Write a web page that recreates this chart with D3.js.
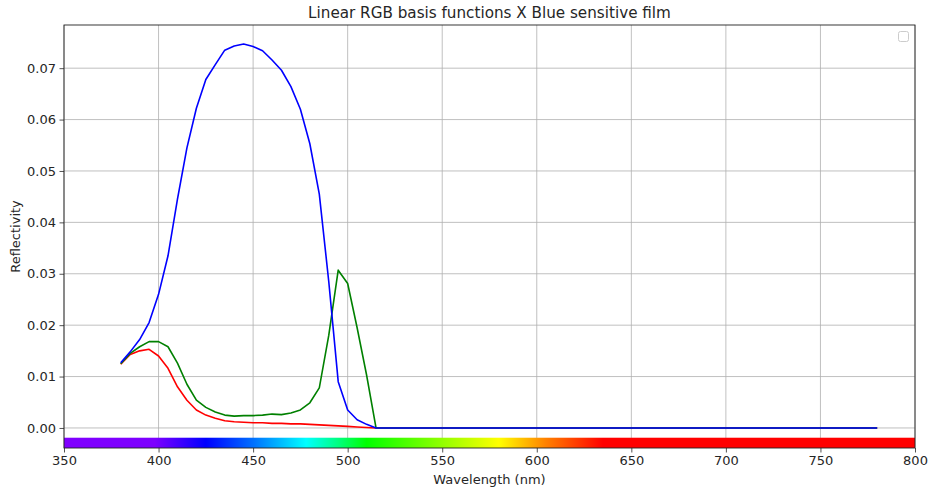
<!DOCTYPE html>
<html>
<head>
<meta charset="utf-8">
<script src="https://cdn.jsdelivr.net/npm/d3@7"></script>
<style>
body{margin:0;background:#fff;}
text{font-family:"DejaVu Sans",sans-serif;fill:#262626;}
</style>
</head>
<body>
<svg id="chart" width="929" height="488"></svg>
<script>
const wavelengths = d3.range(380, 785, 5);
const redValues = [0.0124,0.0143,0.0150,0.0153,0.0140,0.0116,0.0080,0.0054,0.0035,0.0025,0.0019,0.0014,0.0012,0.0011,0.0010,0.0010,0.0009,0.0009,0.0008,0.0008,0.0007,0.0006,0.0005,0.0004,0.0003,0.0002,0.0001,0.0000];
const greenValues = [0.0125,0.0145,0.0158,0.0168,0.0168,0.0158,0.0126,0.0085,0.0054,0.0040,0.0031,0.0025,0.0023,0.0024,0.0024,0.0025,0.0027,0.0026,0.0029,0.0035,0.0049,0.0078,0.0180,0.0307,0.0281,0.0195,0.0103,0.0000];
const blueValues = [0.0127,0.0148,0.0172,0.0205,0.0260,0.0335,0.0445,0.0545,0.0622,0.0678,0.0707,0.0735,0.0743,0.0747,0.0742,0.0734,0.0716,0.0696,0.0664,0.0620,0.0553,0.0455,0.0285,0.0090,0.0035,0.0016,0.0007,0.0000];
const xTicks = [350,400,450,500,550,600,650,700,750,800];
const yTicks = [0.00,0.01,0.02,0.03,0.04,0.05,0.06,0.07];
const spectrumStops = [
  {w:350,c:"#8000ff"},{w:398,c:"#7d00ff"},{w:425,c:"#0000ff"},{w:450,c:"#0070ff"},
  {w:478,c:"#00ffff"},{w:495,c:"#00ff80"},{w:510,c:"#00ff00"},{w:545,c:"#80ff00"},
  {w:580,c:"#ffff00"},{w:605,c:"#ff8000"},{w:635,c:"#ff0000"},{w:800,c:"#ff0000"}
];
const title = "Linear RGB basis functions X Blue sensitive film";

function pad(arr){ return wavelengths.map((w,i)=> i<arr.length ? arr[i] : 0); }

const svg = d3.select("#chart");
const m = {l:64, r:915, t:25, b:448};
const x = d3.scaleLinear().domain([350,800]).range([m.l,m.r]);
const y = d3.scaleLinear().domain([-0.0039,0.0784]).range([m.b,m.t]);

// grid
const g = svg.append("g");
g.selectAll(".gx").data(xTicks).join("line")
  .attr("x1",d=>x(d)).attr("x2",d=>x(d)).attr("y1",m.t).attr("y2",m.b)
  .attr("stroke","#b0b0b0").attr("stroke-width",0.8);
g.selectAll(".gy").data(yTicks).join("line")
  .attr("x1",m.l).attr("x2",m.r).attr("y1",d=>y(d)).attr("y2",d=>y(d))
  .attr("stroke","#b0b0b0").attr("stroke-width",0.8);

// spectrum bar
const defs = svg.append("defs");
const grad = defs.append("linearGradient").attr("id","spec")
  .attr("gradientUnits","userSpaceOnUse").attr("x1",x(350)).attr("x2",x(800)).attr("y1",0).attr("y2",0);
grad.selectAll("stop").data(spectrumStops).join("stop")
  .attr("offset",d=>(d.w-350)/450).attr("stop-color",d=>d.c);
svg.append("rect").attr("x",x(350)).attr("width",x(800)-x(350))
  .attr("y",y(-0.0019)).attr("height",y(-0.0039)-y(-0.0019)).attr("fill","url(#spec)");

// lines
const line = d3.line().x((d,i)=>x(wavelengths[i])).y(d=>y(d));
[[redValues,"#ff0000"],[greenValues,"#008000"],[blueValues,"#0000ff"]].forEach(([vals,col])=>{
  svg.append("path").datum(pad(vals)).attr("d",line).attr("fill","none")
    .attr("stroke",col).attr("stroke-width",1.6).attr("stroke-linejoin","round");
});

// axes
const xa = svg.append("g").attr("transform",`translate(0,${m.b})`)
  .call(d3.axisBottom(x).tickValues(xTicks).tickSize(4.5).tickPadding(3.5).tickFormat(d3.format("d")));
const ya = svg.append("g").attr("transform",`translate(${m.l},0)`)
  .call(d3.axisLeft(y).tickValues(yTicks).tickSize(4.5).tickPadding(3.5).tickFormat(d3.format(".2f")));
[xa,ya].forEach(a=>{
  a.select(".domain").remove();
  a.selectAll("text").style("font-family","DejaVu Sans").style("font-size","13px").attr("fill","#262626");
  a.selectAll("line").attr("stroke","#262626").attr("stroke-width",0.8);
});
svg.append("rect").attr("x",m.l).attr("y",m.t).attr("width",m.r-m.l).attr("height",m.b-m.t)
  .attr("fill","none").attr("stroke","#222").attr("stroke-width",0.9);

// empty legend
svg.append("rect").attr("x",898.5).attr("y",31.5).attr("width",10).attr("height",10).attr("rx",2)
  .attr("fill","#fff").attr("stroke","#cccccc").attr("stroke-width",1);

// labels
svg.append("text").attr("x",(m.l+m.r)/2).attr("y",18).attr("text-anchor","middle")
  .style("font-size","15.2px").text(title);
svg.append("text").attr("x",(m.l+m.r)/2).attr("y",484).attr("text-anchor","middle")
  .style("font-size","13px").text("Wavelength (nm)");
svg.append("text").attr("transform",`translate(20,${(m.t+m.b)/2}) rotate(-90)`).attr("text-anchor","middle")
  .style("font-size","13px").text("Reflectivity");
</script>
</body>
</html>
